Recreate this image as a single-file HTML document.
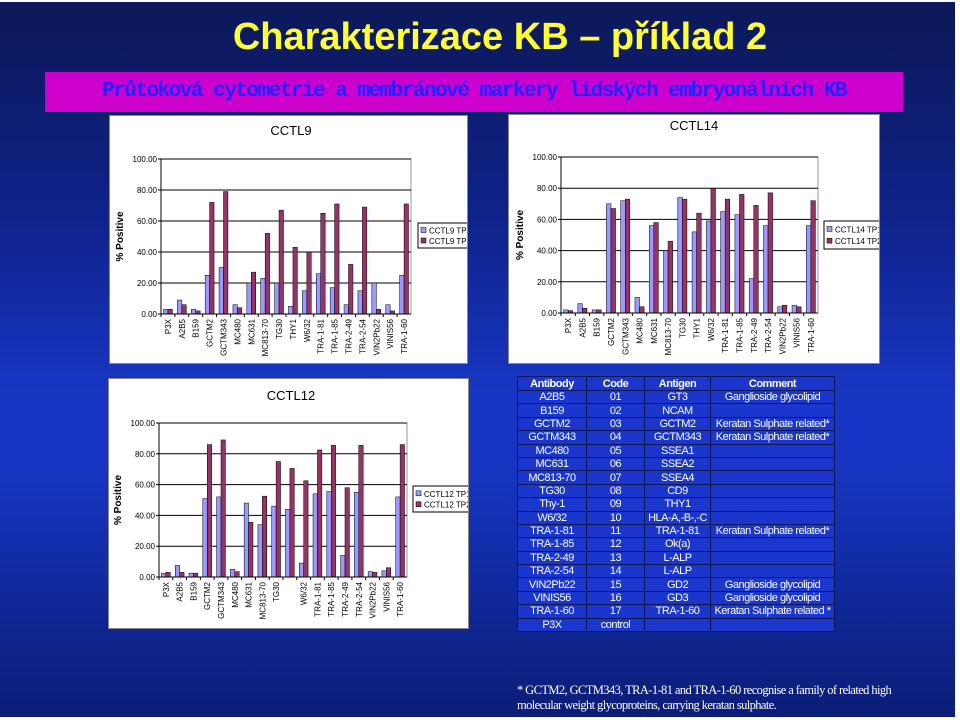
<!DOCTYPE html>
<html><head><meta charset="utf-8">
<style>
body{margin:0;width:960px;height:720px;overflow:hidden;background:#fff;font-family:"Liberation Sans",sans-serif}
#slide{position:absolute;left:0;top:2px;width:955px;height:715px;background:linear-gradient(180deg,#0c1858 0%,#0f228a 30%,#1736c4 55%,#1735c2 65%,#0e2590 88%,#0b1d78 100%)}
#title{position:absolute;left:0;width:1000px;top:16px;text-align:center;color:#ffff33;font:bold 38px "Liberation Sans",sans-serif;letter-spacing:0px}
#sub{position:absolute;left:45px;top:72px;width:858px;height:40px;background:#cc00cc;color:#2222ff;font:bold 21px "Liberation Mono",monospace;text-align:center;line-height:40px;letter-spacing:-1.5px;white-space:nowrap}
.panel{position:absolute;background:#fff;overflow:hidden;border:1px solid #888}
table{position:absolute;left:517px;top:376px;border-collapse:collapse;color:#fff;font-size:11px;letter-spacing:-0.5px}
td,th{border:1.5px solid #0a1650;height:12.4px;padding:0;text-align:center;background:#1a36cc;line-height:12px}
th{font-weight:bold;height:13px}
#foot{position:absolute;left:517px;top:683px;color:#fff;font:12.5px "Liberation Serif",serif;line-height:15px;letter-spacing:-0.6px}
</style></head><body>
<div id="slide"></div>
<div id="title">Charakterizace KB – příklad 2</div>
<div id="sub">Průtoková cytometrie a membránové markery lidských embryonálních KB</div>
<div id="c9" class="panel" style="left:109px;top:115px;width:357px;height:247px"></div>
<div id="c14" class="panel" style="left:508px;top:114px;width:370px;height:248px"></div>
<div id="c12" class="panel" style="left:108px;top:378px;width:359px;height:249px"></div>

<table>
<colgroup><col style="width:69px"><col style="width:58px"><col style="width:66px"><col style="width:124px"></colgroup>
<tr><th>Antibody</th><th>Code</th><th>Antigen</th><th>Comment</th></tr>
<tr><td>A2B5</td><td>01</td><td>GT3</td><td>Ganglioside glycolipid</td></tr>
<tr><td>B159</td><td>02</td><td>NCAM</td><td></td></tr>
<tr><td>GCTM2</td><td>03</td><td>GCTM2</td><td>Keratan Sulphate related*</td></tr>
<tr><td>GCTM343</td><td>04</td><td>GCTM343</td><td>Keratan Sulphate related*</td></tr>
<tr><td>MC480</td><td>05</td><td>SSEA1</td><td></td></tr>
<tr><td>MC631</td><td>06</td><td>SSEA2</td><td></td></tr>
<tr><td>MC813-70</td><td>07</td><td>SSEA4</td><td></td></tr>
<tr><td>TG30</td><td>08</td><td>CD9</td><td></td></tr>
<tr><td>Thy-1</td><td>09</td><td>THY1</td><td></td></tr>
<tr><td>W6/32</td><td>10</td><td>HLA-A,-B-,-C</td><td></td></tr>
<tr><td>TRA-1-81</td><td>11</td><td>TRA-1-81</td><td>Keratan Sulphate related*</td></tr>
<tr><td>TRA-1-85</td><td>12</td><td>Ok(a)</td><td></td></tr>
<tr><td>TRA-2-49</td><td>13</td><td>L-ALP</td><td></td></tr>
<tr><td>TRA-2-54</td><td>14</td><td>L-ALP</td><td></td></tr>
<tr><td>VIN2Pb22</td><td>15</td><td>GD2</td><td>Ganglioside glycolipid</td></tr>
<tr><td>VINIS56</td><td>16</td><td>GD3</td><td>Ganglioside glycolipid</td></tr>
<tr><td>TRA-1-60</td><td>17</td><td>TRA-1-60</td><td>Keratan Sulphate related *</td></tr>
<tr><td>P3X</td><td>control</td><td></td><td></td></tr>
</table>
<div id="foot">* GCTM2, GCTM343, TRA-1-81 and TRA-1-60 recognise a family of related high<br>molecular weight glycoproteins, carrying keratan sulphate.</div>

<script>
const categories=["P3X","A2B5","B159","GCTM2","GCTM343","MC480","MC631","MC813-70","TG30","THY1","W6/32","TRA-1-81","TRA-1-85","TRA-2-49","TRA-2-54","VIN2Pb22","VINIS56","TRA-1-60"];
const categories12=["P3X","A2B5","B159","GCTM2","GCTM343","MC480","MC631","MC813-70","TG30","","W6/32","TRA-1-81","TRA-1-85","TRA-2-49","TRA-2-54","VIN2Pb22","VINIS56","TRA-1-60"];
const yTicks=["0.00","20.00","40.00","60.00","80.00","100.00"];
const cctl9TP1=[3,9,3,25,30,6,20,23,20,5,15,26,17,6,15,20,6,25];
const cctl9TP2=[3,6,2,72,79,4,27,52,67,43,40,65,71,32,69,3,2,71];
const cctl14TP1=[2,6,2,70,72,10,56,40,74,52,59,65,63,22,56,4,5,56];
const cctl14TP2=[1.5,3,2,67,73,4,58,46,73,64,80,73,76,69,77,5,4,72];
const cctl12TP1=[2.5,7.5,2.5,51,52,5,48,34,46,44,9,54,55.5,14,55,3.5,4,52];
const cctl12TP2=[3,3,2.5,86,89,3.5,35.5,52.5,75,70.5,62.5,82.5,85.5,58,85.5,3,6,86];

const NS="http://www.w3.org/2000/svg";
function mk(parent,tag,attrs){const e=document.createElementNS(NS,tag);for(const k in attrs)e.setAttribute(k,attrs[k]);parent.appendChild(e);return e;}

function drawChart(id,name,cats,s1,s2,g){
  const div=document.getElementById(id);
  const W=div.clientWidth,H=div.clientHeight;
  const svg=mk(div,'svg',{width:W,height:H});
  const yScale=v=>g.yb-(v/100)*(g.yb-g.yt);
  const band=(g.x1-g.x0)/cats.length;
  const xScale=i=>g.x0+i*band;
  const t=mk(svg,'text',{x:g.tx,y:g.ty,'text-anchor':'middle','font-size':13,fill:'#000','font-family':'Liberation Sans'});
  t.textContent=name;
  
  
  mk(svg,'rect',{x:g.x0,y:g.yt,width:g.x1-g.x0,height:g.yb-g.yt,fill:'#fff',stroke:'#999','stroke-width':1});
  yTicks.forEach((lab,i)=>{
    const v=i*20,y=yScale(v);
    if(i>0){const ln=mk(svg,'line',{x1:g.x0,x2:g.x1,y1:y,y2:y,stroke:'#000','stroke-width':1});
      
      }
    mk(svg,'line',{x1:g.x0-3,x2:g.x0,y1:y,y2:y,stroke:'#000'});
    const tx=mk(svg,'text',{x:g.x0-4,y:y+3,'text-anchor':'end','font-size':8,fill:'#000'});
    tx.textContent=lab;
    
    
  });
  const bw=band*0.32;
  cats.forEach((c,i)=>{
    const cx=xScale(i)+band/2;
    [[s1,'#9999ff',-1],[s2,'#993366',0]].forEach(([s,col,off])=>{
      const y=yScale(s[i]);
      const r=mk(svg,'rect',{x:cx+off*bw,y:y,width:bw,height:g.yb-y,fill:col,stroke:'#000','stroke-width':0.5});
      
      
    });
    mk(svg,'line',{x1:xScale(i),x2:xScale(i),y1:g.yb,y2:g.yb+3,stroke:'#000'});
    const lx=cx+3,ly=g.yb+5;
    const tl=mk(svg,'text',{x:lx,y:ly,'text-anchor':'end','font-size':8,fill:'#000',transform:`rotate(-90 ${lx} ${ly})`});
    tl.textContent=c;
    
    
  });
  mk(svg,'line',{x1:g.x0,x2:g.x0,y1:g.yt,y2:g.yb,stroke:'#000'});
  mk(svg,'line',{x1:g.x0,x2:g.x1,y1:g.yb,y2:g.yb,stroke:'#000'});
  const ax=g.x0-38,ay=(g.yt+g.yb)/2;
  const at=mk(svg,'text',{x:ax,y:ay,'text-anchor':'middle','font-size':10,'font-weight':'bold',fill:'#000',transform:`rotate(-90 ${ax} ${ay})`});
  at.textContent='% Positive';
  
  
  const lg=mk(svg,'g',{});
  
  
  mk(lg,'rect',{x:g.lx,y:g.ly,width:80,height:g.lh,fill:'#fff',stroke:'#000'});
  [['TP1','#9999ff'],['TP2','#993366']].forEach(([n,col],k)=>{
    const yy=g.ly+g.lh*(0.3+0.42*k);
    mk(lg,'rect',{x:g.lx+3,y:yy-3,width:5,height:5,fill:col,stroke:'#000','stroke-width':0.5});
    const lt=mk(lg,'text',{x:g.lx+11,y:yy+3,'font-size':8,fill:'#000'});
    lt.textContent=name+' '+n;
    
    
  });
}
drawChart('c9','CCTL9',categories,cctl9TP1,cctl9TP2,{x0:51,x1:301,yt:43,yb:198,tx:181,ty:19,lx:308,ly:107,lh:25});
drawChart('c14','CCTL14',categories,cctl14TP1,cctl14TP2,{x0:52,x1:309,yt:42,yb:198,tx:185,ty:15,lx:315,ly:106,lh:28});
drawChart('c12','CCTL12',categories12,cctl12TP1,cctl12TP2,{x0:50,x1:298,yt:44,yb:198,tx:182,ty:21,lx:304,ly:107,lh:26});
</script>
</body></html>
